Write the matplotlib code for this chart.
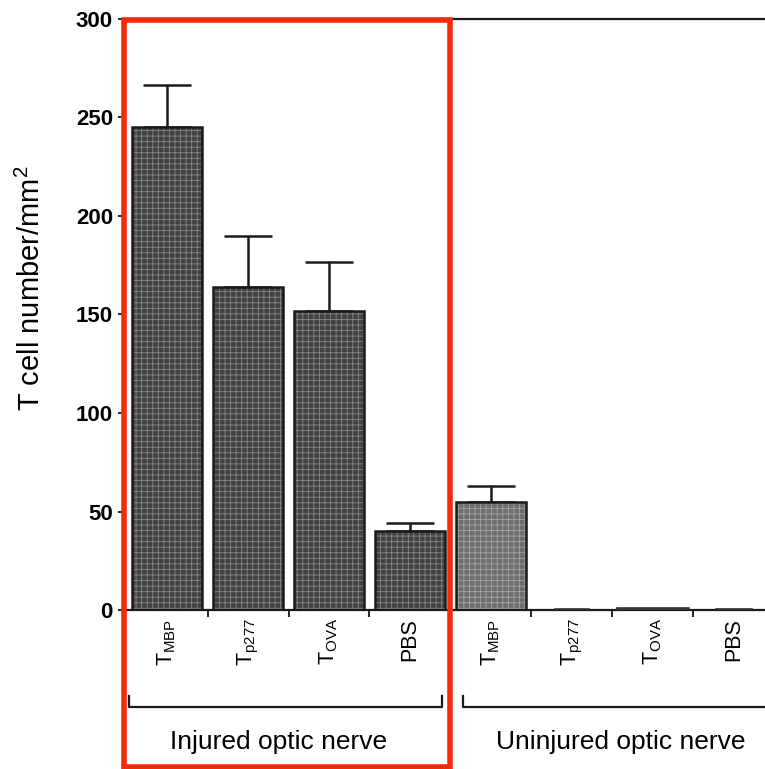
import matplotlib
matplotlib.use("Agg")
import matplotlib.pyplot as plt
from matplotlib.patches import Rectangle
from matplotlib.transforms import blended_transform_factory
import numpy as np

plt.rcParams['font.family'] = ['Liberation Sans', 'DejaVu Sans']
plt.rcParams['mathtext.fontset'] = 'custom'
plt.rcParams['mathtext.rm'] = 'Liberation Sans'
plt.rcParams['mathtext.it'] = 'Liberation Sans:italic'
plt.rcParams['mathtext.bf'] = 'Liberation Sans:bold'
plt.rcParams['hatch.linewidth'] = 0.6

# T cell counts per mm^2 (mean and upper error) for each treatment
categories = ['MBP', 'p277', 'OVA', 'PBS', 'MBP', 'p277', 'OVA', 'PBS']
tick_labels = [r'$\mathrm{T}_{\mathrm{MBP}}$', r'$\mathrm{T}_{\mathrm{p277}}$',
               r'$\mathrm{T}_{\mathrm{OVA}}$', 'PBS',
               r'$\mathrm{T}_{\mathrm{MBP}}$', r'$\mathrm{T}_{\mathrm{p277}}$',
               r'$\mathrm{T}_{\mathrm{OVA}}$', 'PBS']
injured_values = [245, 164, 152, 40]
injured_errors = [21.5, 26, 24.5, 4]
uninjured_values = [55, 0.6, 0.9, 0.6]
uninjured_errors = [8, 0, 0, 0]
group_names = ['Injured optic nerve', 'Uninjured optic nerve']
y_ticks = [0, 50, 100, 150, 200, 250, 300]

W, H = 765, 769
fig = plt.figure(figsize=(W / 100, H / 100), dpi=100)
ax = fig.add_axes([124 / W, 1 - 610 / H, (W - 124) / W, (610 - 19) / H])

x_inj = np.arange(len(injured_values))
x_uninj = np.arange(len(uninjured_values)) + len(injured_values)
width = 0.86

# textured fill, then a crisp outline
ax.bar(x_inj, injured_values, width, color='#424242', edgecolor='#858585',
       hatch='+++', linewidth=0, zorder=2)
ax.bar(x_uninj[:1], uninjured_values[:1], width, color='#6e6e6e', edgecolor='#a4a4a4',
       hatch='+++', linewidth=0, zorder=2)
ax.bar(x_uninj[1:], uninjured_values[1:], [0.42, 0.9, 0.44], color='#333333',
       edgecolor='#333333', linewidth=1.2, zorder=4)
ax.bar(np.concatenate([x_inj, x_uninj[:1]]), injured_values + uninjured_values[:1], width,
       fill=False, edgecolor='#1a1a1a', linewidth=1.8, zorder=3)

# upper error bars only
ax.errorbar(x_inj, injured_values, yerr=[np.zeros(4), injured_errors], fmt='none',
            ecolor='#1a1a1a', elinewidth=1.8, capsize=17, capthick=1.8, zorder=1)
ax.errorbar(x_uninj[:1], uninjured_values[:1], yerr=[[0], uninjured_errors[:1]], fmt='none',
            ecolor='#1a1a1a', elinewidth=1.8, capsize=17, capthick=1.8, zorder=1)

ax.set_xlim(-0.531, 7.383)
ax.set_ylim(0, 300)
ax.set_yticks(y_ticks)
ax.set_yticklabels([str(t) for t in y_ticks], fontsize=16, fontweight='bold')
ax.tick_params(axis='y', direction='out', length=4, width=1.2, pad=4)

ax.set_xticks(np.arange(8))
ax.set_xticklabels(tick_labels, rotation=90, fontsize=15.5, va='top')
ax.tick_params(axis='x', which='major', length=0, pad=6)
ax.set_xticks(np.arange(8)[:-1] + 0.5, minor=True)
ax.tick_params(axis='x', which='minor', direction='out', length=5, width=1.2)

for side in ['left', 'bottom', 'top']:
    ax.spines[side].set_linewidth(1.6)
    ax.spines[side].set_color('#1a1a1a')
ax.spines['right'].set_visible(False)

# y axis title
fig.text(31 / W, 1 - 288 / H, r'T cell number/mm$^{2}$', rotation=90,
         ha='center', va='center', fontsize=21)

# group brackets and names below the axis
tr = blended_transform_factory(ax.transData, ax.transAxes)
y_low = (610 - 707) / 591
y_high = (610 - 696) / 591
for x0, x1 in [(-0.47, 3.40), (3.65, 7.6)]:
    ax.plot([x0, x0, x1, x1], [y_high, y_low, y_low, y_high], color='#1a1a1a',
            lw=1.6, transform=tr, clip_on=False)
ax.text(1.38, (610 - 742) / 591, group_names[0], transform=tr, ha='center',
        va='center', fontsize=19)
ax.text(5.6, (610 - 742) / 591, group_names[1], transform=tr, ha='center',
        va='center', fontsize=19)

# red frame around the injured group
fig.add_artist(Rectangle((124 / W, 1 - 767 / H), (450 - 124) / W, (767 - 20) / H,
                         transform=fig.transFigure, fill=False,
                         edgecolor='#f52a08', linewidth=4, zorder=10))

fig.savefig('out.png', dpi=100)
